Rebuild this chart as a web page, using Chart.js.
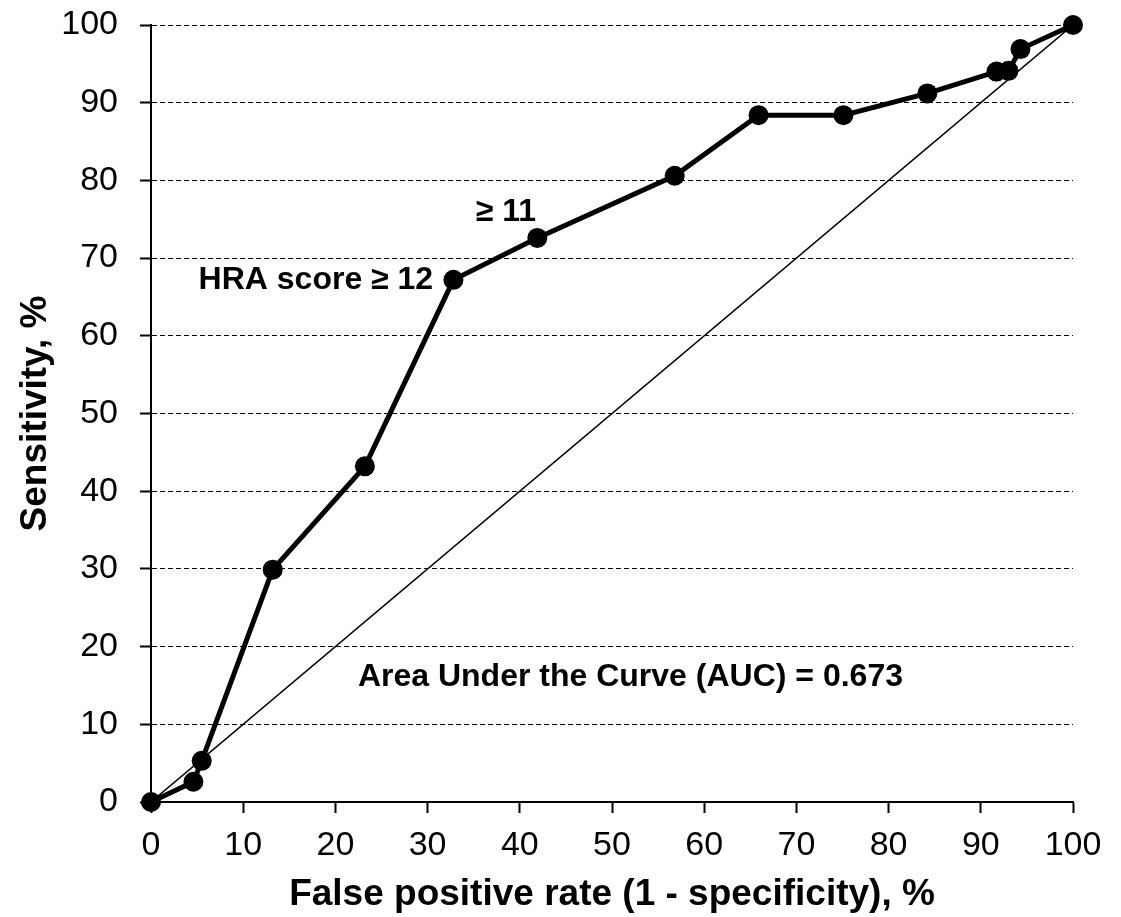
<!DOCTYPE html>
<html lang="en">
<head>
<meta charset="UTF-8" />
<title>ROC curve - HRA score</title>
<script src="https://cdn.jsdelivr.net/npm/chart.js"></script>
<style>
  html, body {
    margin: 0;
    padding: 0;
    background: #ffffff;
  }
  #wrap {
    width: 1121px;
    height: 917px;
  }
</style>
</head>
<body>
<div id="wrap"><canvas id="roc"></canvas></div>

<script>
// ROC points (percent)
const fpr =         [0, 4.6, 5.5, 13.2, 23.2, 32.8, 41.9, 56.8, 65.9, 75.1, 84.2, 91.7, 93.0, 94.3, 100];
const sensitivity = [0, 2.6, 5.3, 29.9, 43.2, 67.2, 72.6, 80.6, 88.4, 88.4, 91.2, 94.0, 94.1, 96.9, 100];

// chance line
const diagX = [0, 100];
const diagY = [0, 100];

const xTicks = [0, 10, 20, 30, 40, 50, 60, 70, 80, 90, 100];
const yTicks = [0, 10, 20, 30, 40, 50, 60, 70, 80, 90, 100];

// text notes: [text, x, y, align]
const notes = [
  ['HRA score \u2265 12', 30.6, 67.2, 'right'],
  ['\u2265 11', 38.5, 75.9, 'center'],
  ['Area Under the Curve (AUC) = 0.673', 52.0, 16.1, 'center']
];

const FONT = "Arial, 'Liberation Sans', sans-serif";

const notePlugin = {
  id: 'notes',
  afterDatasetsDraw(chart) {
    const { ctx, scales } = chart;
    ctx.save();
    ctx.fillStyle = '#000';
    ctx.font = 'bold 32px ' + FONT;
    ctx.textBaseline = 'middle';
    notes.forEach(n => {
      ctx.textAlign = n[3];
      ctx.fillText(n[0], scales.x.getPixelForValue(n[1]), scales.y.getPixelForValue(n[2]));
    });
    ctx.restore();
  }
};

const ctx = document.getElementById('roc').getContext('2d');
new Chart(ctx, {
  type: 'scatter',
  data: {
    datasets: [
      {
        label: 'ROC',
        data: fpr.map((x, i) => ({ x: x, y: sensitivity[i] })),
        showLine: true,
        borderColor: '#000',
        backgroundColor: '#000',
        borderWidth: 5,
        pointRadius: 10,
        pointHoverRadius: 10,
        pointBorderWidth: 0,
        clip: false
      },
      {
        label: 'Chance',
        data: diagX.map((x, i) => ({ x: x, y: diagY[i] })),
        showLine: true,
        borderColor: '#000',
        borderWidth: 1.5,
        pointRadius: 0
      }
    ]
  },
  options: {
    responsive: true,
    maintainAspectRatio: false,
    animation: false,
    layout: { padding: { left: 0, right: 48, top: 25, bottom: 0 } },
    plugins: {
      legend: { display: false },
      tooltip: { enabled: false }
    },
    scales: {
      x: {
        type: 'linear',
        min: 0,
        max: 100,
        afterBuildTicks: s => { s.ticks = xTicks.map(v => ({ value: v })); },
        afterFit: s => { s.height = 115; s.paddingLeft = 0; s.paddingRight = 0; },
        ticks: {
          color: '#000',
          font: { family: FONT, size: 34 },
          padding: 12,
          maxRotation: 0
        },
        grid: {
          drawOnChartArea: false,
          drawTicks: true,
          tickLength: 11,
          tickColor: '#000',
          tickWidth: 2
        },
        border: { display: true, color: '#000', width: 2 },
        title: {
          display: true,
          text: 'False positive rate (1 - specificity), %',
          color: '#000',
          font: { family: FONT, size: 37, weight: 'bold' },
          padding: { top: 0, bottom: 0 }
        }
      },
      y: {
        type: 'linear',
        min: 0,
        max: 100,
        afterBuildTicks: s => { s.ticks = yTicks.map(v => ({ value: v })); },
        afterFit: s => { s.width = 151; s.paddingTop = 0; s.paddingBottom = 0; },
        ticks: {
          color: '#000',
          font: { family: FONT, size: 34 },
          padding: 22
        },
        grid: {
          drawOnChartArea: true,
          color: '#000',
          lineWidth: 1,
          drawTicks: true,
          tickLength: 11,
          tickColor: '#000',
          tickWidth: 2
        },
        border: { display: true, color: '#000', width: 2, dash: [5, 3] },
        title: {
          display: true,
          text: 'Sensitivity, %',
          color: '#000',
          font: { family: FONT, size: 37, weight: 'bold' },
          padding: { top: 14, bottom: 0 }
        }
      }
    }
  },
  plugins: [notePlugin]
});
</script>
</body>
</html>
